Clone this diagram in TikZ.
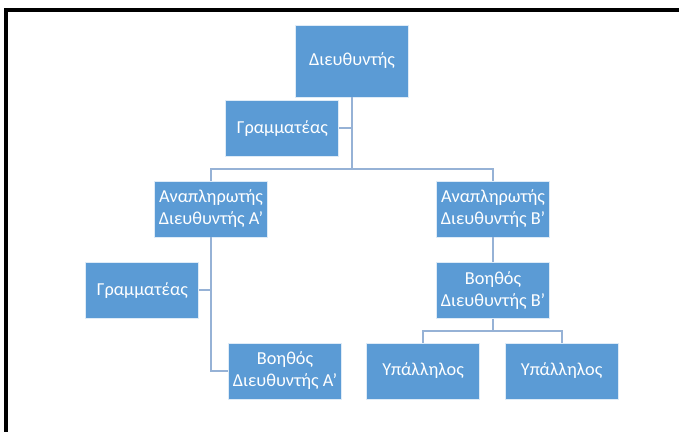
\documentclass[tikz,border=0pt]{standalone}
\usepackage{fontspec}
\setmainfont{Carlito}
\usetikzlibrary{positioning}
\definecolor{boxblue}{RGB}{91,155,213}
\definecolor{linkblue}{RGB}{150,178,214}
\tikzset{
  orgbox/.style  = {draw=white!80!boxblue, line width=0.6pt, fill=boxblue, text=white,
                    align=center, font=\fontsize{13}{15.6}\selectfont,
                    minimum width=2.825cm, minimum height=1.4cm, inner sep=2pt},
  orgtop/.style  = {orgbox, minimum height=1.8cm},
  link/.style    = {draw=linkblue, line width=1.4pt},
  frame/.style   = {draw=black, line width=2.2pt},
}
\begin{document}
\begin{tikzpicture}

    \useasboundingbox (0,0) rectangle (16.975,-10.8);
    \draw[frame] (0.15,-10.8) -- (0.15,-0.25) -- (16.975,-0.25);

    \node[orgtop] (dir) at (8.8, -1.525) {Διευθυντής};
    \node[orgbox] (gram) at (7.06, -3.21) {Γραμματέας};

    \node[orgbox] (anaA) at (5.275, -5.225) {Αναπληρωτής\\Διευθυντής Α’};
    \node[orgbox] (anaB) at (12.325, -5.225) {Αναπληρωτής\\Διευθυντής Β’};

    \node[orgbox] (gramA)  at (3.56, -7.26) {Γραμματέας};
    \node[orgbox] (voithA) at (7.125, -9.275) {Βοηθός\\Διευθυντής Α’};
    \node[orgbox] (voithB) at (12.325, -7.26) {Βοηθός\\Διευθυντής Β’};

    \node[orgbox] (ypal1) at (10.575, -9.275) {Υπάλληλος};
    \node[orgbox] (ypal2) at (14.04, -9.275) {Υπάλληλος};

    % buses
    \coordinate (busTop) at (8.8, -4.225);
    \coordinate (busB)   at (12.325, -8.275);

    \draw[link] (dir) -- (busTop);
    \draw[link] (busTop) -| (anaA);
    \draw[link] (busTop) -| (anaB);
    \draw[link] (gram) -- (gram.east -| dir.south);

    \draw[link] (anaA) |- (voithA);
    \draw[link] (gramA) -- (gramA.east -| anaA.south);

    \draw[link] (anaB) -- (voithB);
    \draw[link] (voithB) -- (busB);
    \draw[link] (busB) -| (ypal1);
    \draw[link] (busB) -| (ypal2);
  \end{tikzpicture}
\end{document}
